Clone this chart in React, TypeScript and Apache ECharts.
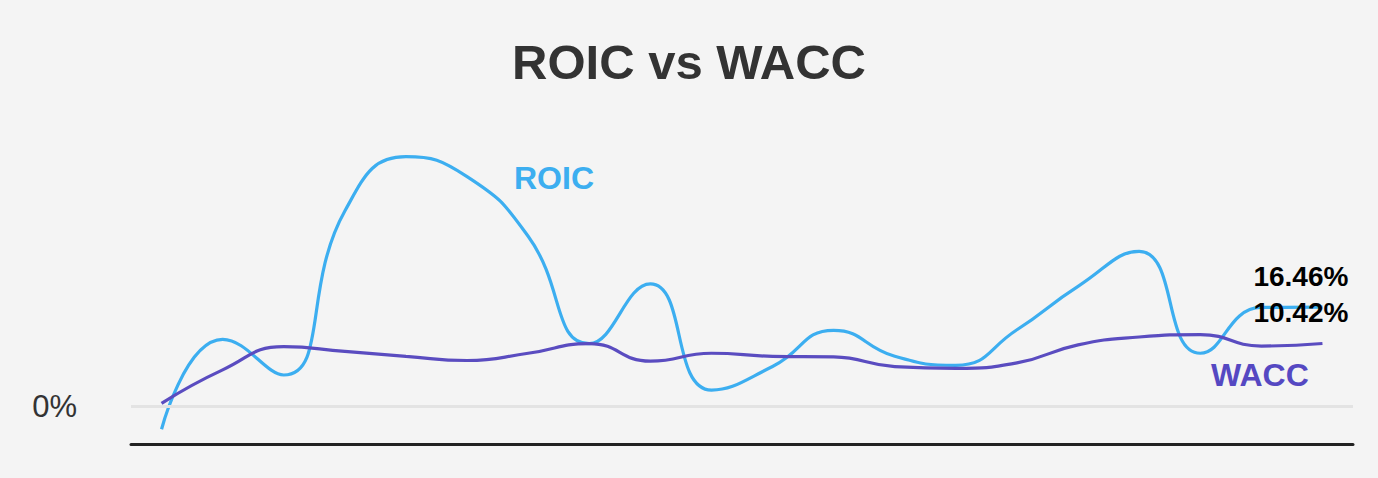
import React, { useEffect, useRef } from "react";
import * as echarts from "echarts";

const periods = [
  "P1", "P2", "P3", "P4", "P5", "P6", "P7", "P8", "P9", "P10",
  "P11", "P12", "P13", "P14", "P15", "P16", "P17", "P18", "P19", "P20",
];
const roic = [
  -3.8, 11.1, 5.2, 32.4, 41.4, 38.1, 28.2, 10.4, 20.3, 2.7,
  6.6, 12.6, 8.3, 6.8, 12.7, 19.9, 25.7, 8.8, 16.4, 16.46,
];
const wacc = [
  0.5, 6.05, 9.9, 9.1, 8.3, 7.6, 8.8, 10.4, 7.5, 8.8,
  8.3, 8.2, 6.6, 6.3, 7.2, 10.2, 11.5, 11.9, 10.0, 10.42,
];
const title = "ROIC vs WACC";
const roicName = "ROIC";
const waccName = "WACC";

const FONT = "'Liberation Sans', Arial, Helvetica, sans-serif";
const ROIC_COLOR = "#3caef0";
const WACC_COLOR = "#5a4cc0";

const endLabel = {
  show: true,
  offset: [-77, -31],
  formatter: (p: any) => Number(p.value).toFixed(2) + "%",
  color: "#000",
  fontSize: 28,
  fontWeight: "bold",
  fontFamily: FONT,
};

export default function App() {
  const ref = useRef<HTMLDivElement>(null);
  useEffect(() => {
    if (!ref.current) return;
    const chart = echarts.init(ref.current, undefined, { renderer: "svg" });
    chart.setOption({
      animation: false,
      backgroundColor: "#f4f4f4",
      title: {
        text: title,
        left: "center",
        top: 32,
        textStyle: {
          fontSize: 49,
          fontWeight: "bold",
          color: "#333",
          fontFamily: FONT,
        },
      },
      grid: { left: 131, right: 25, top: 135, bottom: 33.5 },
      xAxis: {
        type: "category",
        data: periods,
        boundaryGap: true,
        axisLine: { onZero: false, lineStyle: { color: "#222", width: 3 } },
        axisTick: { show: false },
        axisLabel: { show: false },
        splitLine: { show: false },
      },
      yAxis: {
        type: "value",
        min: -6.33,
        max: 45,
        axisLine: { show: false },
        axisTick: { show: false },
        splitLine: { show: false },
        axisLabel: {
          margin: 54,
          fontSize: 31,
          color: "#333",
          fontFamily: FONT,
          formatter: (v: number) => (Math.abs(v) < 1e-9 ? "0%" : ""),
        },
      },
      graphic: [
        {
          type: "text",
          left: 514,
          top: 162,
          style: {
            text: roicName,
            fill: ROIC_COLOR,
            fontSize: 32,
            fontWeight: "bold",
            fontFamily: FONT,
          },
        },
        {
          type: "text",
          left: 1211,
          top: 359,
          style: {
            text: waccName,
            fill: "#5548c2",
            fontSize: 32,
            fontWeight: "bold",
            fontFamily: FONT,
          },
        },
      ],
      series: [
        {
          name: waccName,
          type: "line",
          data: wacc,
          smooth: 0.5,
          symbol: "none",
          lineStyle: { color: WACC_COLOR, width: 3.2 },
          endLabel,
          z: 3,
          markLine: {
            silent: true,
            symbol: "none",
            label: { show: false },
            lineStyle: { color: "#e3e3e3", type: "solid", width: 3 },
            data: [{ yAxis: 0 }],
          },
        },
        {
          name: roicName,
          type: "line",
          data: roic,
          smooth: 0.5,
          symbol: "none",
          lineStyle: { color: ROIC_COLOR, width: 3.2 },
          endLabel,
          z: 2,
        },
      ],
    });
    return () => chart.dispose();
  }, []);
  return (
    <div
      ref={ref}
      style={{ position: "fixed", left: 0, top: 0, width: 1378, height: 478 }}
    />
  );
}
